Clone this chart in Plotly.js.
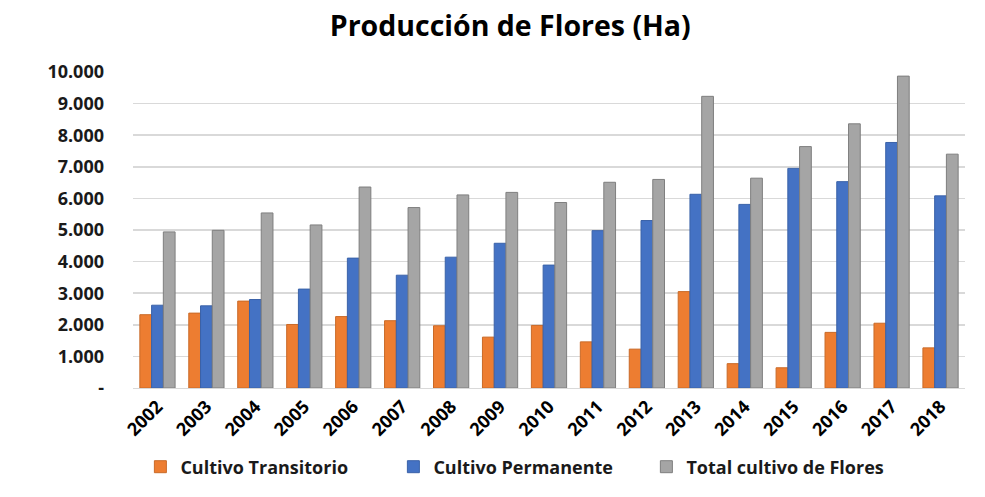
<!DOCTYPE html>
<html>
<head>
<meta charset="utf-8">
<script src="https://cdn.plot.ly/plotly-3.0.1.min.js"></script>
<style>html,body{margin:0;padding:0;background:#fff;}#chart{width:985px;height:497px;}</style>
</head>
<body>
<div id="chart"></div>
<script>
var years = ["2002","2003","2004","2005","2006","2007","2008","2009","2010","2011","2012","2013","2014","2015","2016","2017","2018"];
var transitorio = [2320,2370,2750,2010,2260,2130,1970,1610,1980,1460,1230,3050,770,640,1760,2050,1270];
var permanente = [2620,2600,2800,3130,4110,3570,4140,4580,3890,4980,5300,6130,5810,6950,6530,7770,6080];
var total = [4940,4990,5540,5160,6360,5710,6110,6190,5870,6510,6600,9230,6640,7640,8360,9870,7400];
var yTickVals = [0,1000,2000,3000,4000,5000,6000,7000,8000,9000,10000];
var yTickText = ["-","1.000","2.000","3.000","4.000","5.000","6.000","7.000","8.000","9.000","10.000"];

var font = "Open Sans, sans-serif";
function mk(name, vals, color, line) {
  return {type:"bar", name:name, x:years, y:vals,
    marker:{color:color, line:{color:line, width:1}},
    hoverinfo:"x+y+name"};
}
var data = [
  mk("Cultivo Transitorio", transitorio, "#ED7D31", "#C96A28"),
  mk("Cultivo Permanente", permanente, "#4472C4", "#3A62A8"),
  mk("Total cultivo de Flores", total, "#A5A5A5", "#7F7F7F")
];
var layout = {
  width:985, height:497,
  margin:{l:133, r:20, t:72, b:109},
  paper_bgcolor:"#fff", plot_bgcolor:"#fff",
  title:{text:"<b>Producción de Flores (Ha)</b>", x:0.518, xanchor:"center", y:0.948, yanchor:"middle",
    font:{family:font, size:28.5, color:"#000"}},
  barmode:"group", bargap:0.28, bargroupgap:0,
  xaxis:{type:"category", tickangle:-45, tickfont:{family:font, size:18, color:"#000", weight:"bold"},
    showgrid:false, showline:true, linecolor:"#d9d9d9", ticks:"", automargin:false},
  yaxis:{range:[0,10000], tickvals:yTickVals, ticktext:yTickText, showgrid:true, gridcolor:"#d9d9d9", gridwidth:1.5,
    zeroline:false, ticks:"", ticklen:0, tickfont:{family:font, size:18, color:"#1a1a1a", weight:"bold"}, automargin:false,
    ticklabelstandoff:28},
  legend:{orientation:"h", x:0.465, xanchor:"center", y:-0.25, yanchor:"middle",
    font:{family:font, size:18, color:"#1a1a1a", weight:"bold"}, entrywidth:208, itemwidth:30, traceorder:"normal"},
  showlegend:true
};
Plotly.newPlot("chart", data, layout, {displayModeBar:false, staticPlot:true});
</script>
</body>
</html>
